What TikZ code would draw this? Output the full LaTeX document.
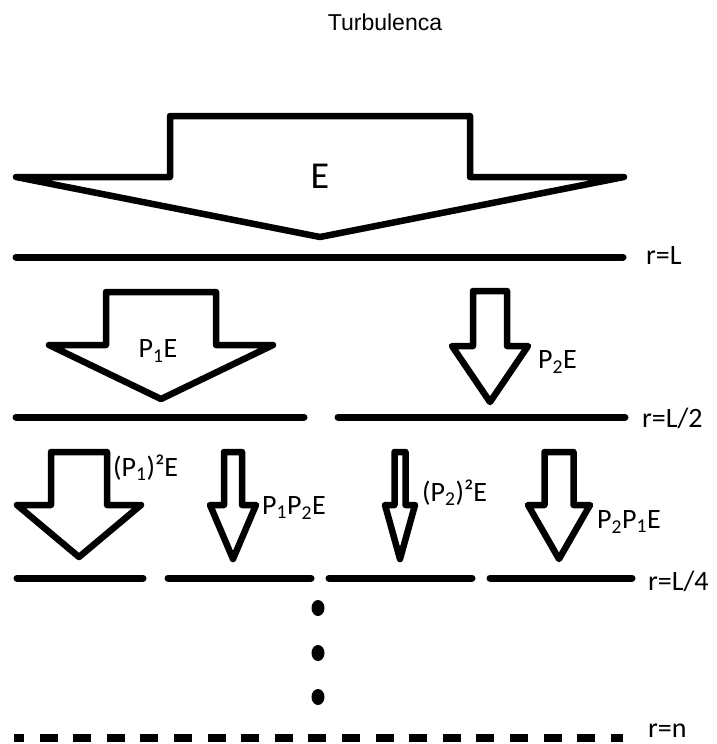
\documentclass[tikz,border=0pt]{standalone}
\usepackage{fontspec}
\setmainfont{Carlito}
\newfontfamily\titlefont{Liberation Sans}
\usetikzlibrary{positioning}

\begin{document}
\begin{tikzpicture}[
  x=1pt, y=-1pt,
  flow/.style={draw, line width=6.5pt, line join=round, line cap=round, fill=white},
  level/.style={line width=7pt, line cap=round},
  lbl/.style={inner sep=0pt, font=\fontsize{28}{30}\selectfont},
  rlabel/.style={lbl, anchor=west}
]
\useasboundingbox (0,0) rectangle (716,744);

\node[font=\titlefont\fontsize{23}{26}\selectfont] (title) at (385,22) {Turbulenca};

% energy arrows: centre / half shaft / half head / top / head / tip
\foreach \cx/\sw/\ww/\top/\wing/\tip in {320/150/304/116/177/237,
    161/55/112/292/345/399, 490/17/38/291/346/402,
    79/28/62/452/505/557, 233/9/23/452/505/559,
    400/5.5/15/452/505/559, 559/14.5/31/452/505/559}
  \draw[flow] ({\cx-\sw},\top) -- ({\cx+\sw},\top) -- ({\cx+\sw},\wing)
    -- ({\cx+\ww},\wing) -- (\cx,\tip) -- ({\cx-\ww},\wing)
    -- ({\cx-\sw},\wing) -- cycle;

\node[lbl, font=\fontsize{38}{40}\selectfont] (e) at (320,176) {E};
\node[lbl] (p1e) at (158,351) {P\textsubscript{1}E};
\node[lbl, anchor=west] (p2e) at (538,362) {P\textsubscript{2}E};
\node[lbl, anchor=west] (p11e) at (113,468) {(P\textsubscript{1})²E};
\node[lbl, anchor=west] (p12e) at (262,508) {P\textsubscript{1}P\textsubscript{2}E};
\node[lbl, anchor=west] (p22e) at (422,493) {(P\textsubscript{2})²E};
\node[lbl, anchor=west] (p21e) at (597,522) {P\textsubscript{2}P\textsubscript{1}E};

% scale levels
\draw[level] (16,257) -- (623,257);
\draw[level] (16,417) -- (304,417);
\draw[level] (338,417) -- (625,417);
\draw[level] (17,578) -- (143,578);
\draw[level] (168,578) -- (311,578);
\draw[level] (329,578) -- (472,578);
\draw[level] (490,578) -- (632,578);
\draw[line width=8pt, dash pattern=on 18pt off 15.6pt, dash phase=8pt] (14,738) -- (623,738);

\node[rlabel] (rL) at (646,256) {r=L};
\node[rlabel] (rL2) at (642,418) {r=L/2};
\node[rlabel] (rL4) at (648,581) {r=L/4};
\node[rlabel] (rn) at (648,731) {r=n};

\foreach \y in {608,653,697}
  \fill (318,\y) ellipse (6.5 and 8);
\end{tikzpicture}
\end{document}
